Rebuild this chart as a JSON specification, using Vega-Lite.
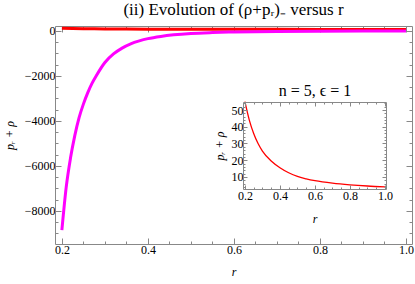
{
  "$schema": "https://vega.github.io/schema/vega-lite/v6.json",
  "autosize": {"type": "none"},
  "width": 357,
  "height": 218,
  "padding": {"left": 55, "top": 26, "right": 3, "bottom": 40},
  "background": "white",
  "config": {
    "view": {"stroke": null},
    "font": "Liberation Serif",
    "axis": {
      "labelFont": "Liberation Serif", "labelFontSize": 12, "labelColor": "black",
      "titleFont": "Liberation Serif", "titleFontWeight": "normal", "titleColor": "black",
      "domainColor": "#888888", "tickColor": "#888888", "grid": false, "labelFlush": false
    }
  },
  "title": {"text": "(ii) Evolution of (ρ+pᵣ)₋ versus r", "font": "Liberation Serif", "fontSize": 17, "fontWeight": "normal", "color": "black", "offset": 3},
  "datasets": {
    "neg": [
      {"r": 0.2, "v": -8850}, {"r": 0.21, "v": -6950}, {"r": 0.22, "v": -5650}, {"r": 0.23, "v": -4650},
      {"r": 0.24, "v": -3850}, {"r": 0.25, "v": -3250}, {"r": 0.26, "v": -2750}, {"r": 0.27, "v": -2330},
      {"r": 0.28, "v": -1990}, {"r": 0.3, "v": -1400}, {"r": 0.32, "v": -1020}, {"r": 0.34, "v": -760},
      {"r": 0.36, "v": -570}, {"r": 0.38, "v": -440}, {"r": 0.4, "v": -340}, {"r": 0.43, "v": -240},
      {"r": 0.46, "v": -170}, {"r": 0.5, "v": -110}, {"r": 0.55, "v": -70}, {"r": 0.6, "v": -45},
      {"r": 0.7, "v": -20}, {"r": 0.8, "v": -10}, {"r": 0.9, "v": -5}, {"r": 1.0, "v": -3}
    ],
    "pos": [
      {"r": 0.2, "v": 55}, {"r": 0.225, "v": 44}, {"r": 0.25, "v": 36}, {"r": 0.275, "v": 30},
      {"r": 0.3, "v": 25.5}, {"r": 0.35, "v": 19.5}, {"r": 0.4, "v": 15.5}, {"r": 0.45, "v": 12.5},
      {"r": 0.5, "v": 10.3}, {"r": 0.55, "v": 8.9}, {"r": 0.6, "v": 7.8}, {"r": 0.7, "v": 6.3},
      {"r": 0.8, "v": 5.3}, {"r": 0.9, "v": 4.6}, {"r": 1.0, "v": 4.1}
    ]
  },
  "layer": [
    {
      "layer": [
        {
          "data": {"name": "pos"},
          "mark": {"type": "line", "color": "#ff0000", "strokeWidth": 3, "yOffset": -1.5},
          "encoding": {
            "x": {"field": "r", "type": "quantitative"},
            "y": {"field": "v", "type": "quantitative"}
          }
        },
        {
          "data": {"name": "neg"},
          "mark": {"type": "line", "color": "#ff00ff", "strokeWidth": 3, "interpolate": "monotone"},
          "encoding": {
            "x": {"field": "r", "type": "quantitative",
              "scale": {"domain": [0.184, 1.014], "nice": false, "zero": false},
              "axis": {"orient": "bottom", "title": "r", "titleFontStyle": "italic", "titleFontSize": 12, "titlePadding": 11,
                "values": [0.2, 0.4, 0.6, 0.8, 1.0], "format": ".1f", "tickSize": -6, "labelPadding": 6}},
            "y": {"field": "v", "type": "quantitative",
              "scale": {"domain": [-9467, 222], "nice": false, "zero": false},
              "axis": {"orient": "left", "title": "pᵣ + ρ", "titleFontStyle": "italic", "titleFontSize": 12, "titlePadding": 8,
                "values": [-8000, -6000, -4000, -2000, 0], "format": "d", "tickSize": -6, "labelPadding": 6}}
          }
        },
        {
          "mark": {"type": "rule", "color": "#ff0000", "strokeWidth": 4, "strokeDash": [7, 3], "yOffset": 1},
          "encoding": {
            "x": {"datum": 0.2},
            "x2": {"datum": 1.0},
            "y": {"datum": 0}
          }
        }
      ]
    },
    {
      "data": {"name": "neg"},
      "mark": {"type": "point", "opacity": 0},
      "encoding": {
        "x": {"field": "r", "type": "quantitative",
          "scale": {"domain": [0.184, 1.014], "nice": false, "zero": false},
          "axis": {"orient": "bottom", "title": null, "labels": false, "domain": false,
            "values": [0.25,0.3,0.35,0.45,0.5,0.55,0.65,0.7,0.75,0.85,0.9,0.95], "tickSize": -3}},
        "y": {"field": "v", "type": "quantitative",
          "scale": {"domain": [-9467, 222], "nice": false, "zero": false},
          "axis": {"orient": "left", "title": null, "labels": false, "domain": false,
            "values": [-9000,-8500,-7500,-7000,-6500,-5500,-5000,-4500,-3500,-3000,-2500,-1500,-1000,-500], "tickSize": -3}}
      }
    },
    {
      "data": {"name": "neg"},
      "mark": {"type": "point", "opacity": 0},
      "encoding": {
        "x": {"field": "r", "type": "quantitative",
          "scale": {"domain": [0.184, 1.014], "nice": false, "zero": false},
          "axis": {"orient": "top", "title": null, "labels": false,
            "values": [0.2,0.25,0.3,0.35,0.4,0.45,0.5,0.55,0.6,0.65,0.7,0.75,0.8,0.85,0.9,0.95,1.0],
            "tickSize": {"condition": {"test": "abs(datum.value*5 - round(datum.value*5)) < 0.001", "value": -6}, "value": -3}}},
        "y": {"field": "v", "type": "quantitative",
          "scale": {"domain": [-9467, 222], "nice": false, "zero": false},
          "axis": {"orient": "right", "title": null, "labels": false,
            "values": [-9000,-8500,-8000,-7500,-7000,-6500,-6000,-5500,-5000,-4500,-4000,-3500,-3000,-2500,-2000,-1500,-1000,-500,0],
            "tickSize": {"condition": {"test": "abs(datum.value % 2000) < 1", "value": -6}, "value": -3}}}
      }
    },
    {
      "layer": [
        {
          "mark": {"type": "rule", "color": "#999999", "strokeWidth": 1},
          "encoding": {
            "x": {"datum": 0.189},
            "x2": {"datum": 1.006},
            "y": {"datum": 10}
          }
        },
        {
          "data": {"name": "pos"},
          "mark": {"type": "line", "color": "#ff0000", "strokeWidth": 1.3, "interpolate": "monotone"},
          "encoding": {
            "x": {"field": "r", "type": "quantitative",
              "scale": {"domain": [0.189, 1.006], "range": [188, 331], "nice": false, "zero": false},
              "axis": {"orient": "bottom", "offset": -55, "title": "r", "titleFontStyle": "italic", "titleFontSize": 12, "titlePadding": 12, "zindex": 1,
                "values": [0.2, 0.4, 0.6, 0.8, 1.0], "format": ".1f", "tickSize": -4, "labelPadding": 5}},
            "y": {"field": "v", "type": "quantitative",
              "scale": {"domain": [2.8, 54.8], "range": [163, 76], "nice": false, "zero": false},
              "axis": {"orient": "left", "offset": -188, "title": "pᵣ + ρ", "titleFontStyle": "italic", "titleFontSize": 12, "titlePadding": 5, "zindex": 1,
                "values": [10, 20, 30, 40, 50], "format": "d", "tickSize": -4, "labelPadding": 4}}
          }
        }
      ]
    },
    {
      "data": {"name": "pos"},
      "mark": {"type": "point", "opacity": 0},
      "encoding": {
        "x": {"field": "r", "type": "quantitative",
          "scale": {"domain": [0.189, 1.006], "range": [188, 331], "nice": false, "zero": false},
          "axis": {"orient": "bottom", "offset": -55, "title": null, "labels": false, "domain": false, "zindex": 1,
            "values": [0.25,0.3,0.35,0.45,0.5,0.55,0.65,0.7,0.75,0.85,0.9,0.95], "tickSize": -2}},
        "y": {"field": "v", "type": "quantitative",
          "scale": {"domain": [2.8, 54.8], "range": [163, 76], "nice": false, "zero": false},
          "axis": {"orient": "left", "offset": -188, "title": null, "labels": false, "domain": false, "zindex": 1,
            "values": [4,6,8,12,14,16,18,22,24,26,28,32,34,36,38,42,44,46,48,52,54], "tickSize": -2}}
      }
    },
    {
      "data": {"name": "pos"},
      "mark": {"type": "point", "opacity": 0},
      "encoding": {
        "x": {"field": "r", "type": "quantitative",
          "scale": {"domain": [0.189, 1.006], "range": [188, 331], "nice": false, "zero": false},
          "axis": {"orient": "top", "offset": -76, "title": "n = 5, ϵ = 1", "titleFontSize": 16, "titlePadding": 3, "labels": false, "zindex": 1,
            "values": [0.2,0.25,0.3,0.35,0.4,0.45,0.5,0.55,0.6,0.65,0.7,0.75,0.8,0.85,0.9,0.95,1.0],
            "tickSize": {"condition": {"test": "abs(datum.value*5 - round(datum.value*5)) < 0.001", "value": -4}, "value": -2}}},
        "y": {"field": "v", "type": "quantitative",
          "scale": {"domain": [2.8, 54.8], "range": [163, 76], "nice": false, "zero": false},
          "axis": {"orient": "right", "offset": -26, "title": null, "labels": false, "zindex": 1,
            "values": [4,6,8,10,12,14,16,18,20,22,24,26,28,30,32,34,36,38,40,42,44,46,48,50,52,54],
            "tickSize": {"condition": {"test": "datum.value % 10 === 0", "value": -4}, "value": -2}}}
      }
    }
  ],
  "resolve": {"scale": {"x": "independent", "y": "independent"}, "axis": {"x": "independent", "y": "independent"}}
}
